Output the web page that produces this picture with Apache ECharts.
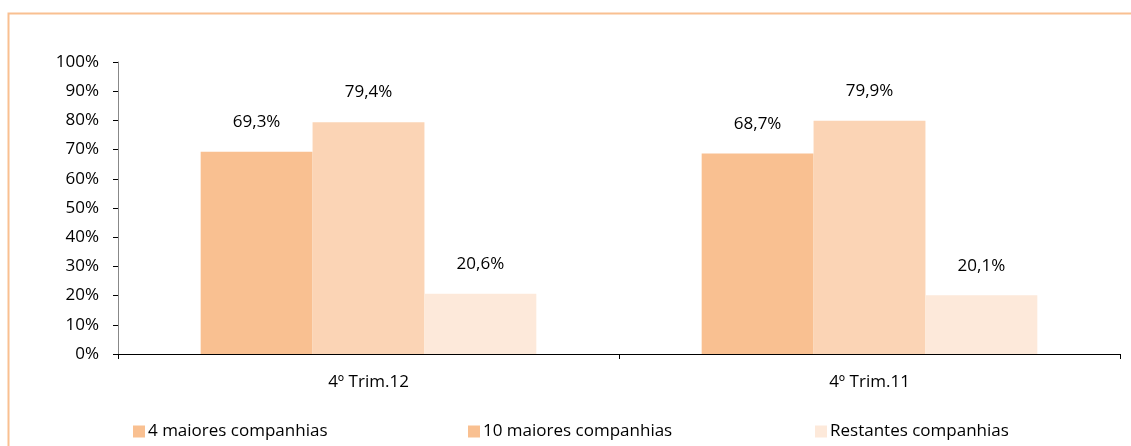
<!DOCTYPE html>
<html>
<head>
<meta charset="utf-8">
<script src="https://cdn.jsdelivr.net/npm/echarts@6/dist/echarts.min.js"></script>
<style>
html,body{margin:0;padding:0;background:#fff;}
#chart{width:1131px;height:446px;}
</style>
</head>
<body>
<div id="chart"></div>
<script>
var categories = ['4º Trim.12', '4º Trim.11'];
var seriesNames = ['4 maiores companhias', '10 maiores companhias', 'Restantes companhias'];
var top4 = [69.3, 68.7];
var top10 = [79.4, 79.9];
var restantes = [20.6, 20.1];
var yTicks = [0, 10, 20, 30, 40, 50, 60, 70, 80, 90, 100];

var barColors = ['#F9C091', '#FBD4B5', '#FDE9DA'];
var legendColors = ['#F9C091', '#F9C091', '#FDE9DA'];
var FONT = 'Open Sans';
var FS = 17;

var chart = echarts.init(document.getElementById('chart'));

function mkSeries(name, data, color) {
  return {
    name: name,
    type: 'bar',
    data: data,
    barGap: '0%',
    barCategoryGap: '33%',
    itemStyle: { color: color },
    label: {
      show: true,
      position: 'top',
      distance: 21,
      fontFamily: FONT,
      fontSize: FS,
      color: '#000',
      formatter: function (p) { return p.value.toFixed(1).replace('.', ',') + '%'; }
    }
  };
}

function mkLegend(i, left) {
  return {
    left: left,
    top: 418,
    itemWidth: 12,
    itemHeight: 12,
    itemGap: 0,
    selectedMode: false,
    textStyle: { fontFamily: FONT, fontSize: FS, color: '#000', padding: [0, 0, 0, -2] },
    data: [{ name: seriesNames[i], icon: 'rect', itemStyle: { color: legendColors[i] } }]
  };
}

chart.setOption({
  animation: false,
  backgroundColor: '#fff',
  graphic: [{
    type: 'polyline',
    shape: { points: [[8.5, 460], [8.5, 13.5], [1140, 13.5]] },
    style: { stroke: '#F9C091', lineWidth: 2, fill: null }
  }],
  legend: [mkLegend(0, 128), mkLegend(1, 463), mkLegend(2, 810)],
  grid: { left: 118, right: 11, top: 62, bottom: 92, containLabel: false },
  xAxis: {
    type: 'category',
    data: categories,
    axisLine: { lineStyle: { color: '#000', width: 1 } },
    axisTick: { show: true, length: 5, lineStyle: { color: '#000' } },
    axisLabel: { fontFamily: FONT, fontSize: FS, color: '#000', margin: 20 }
  },
  yAxis: {
    type: 'value',
    min: yTicks[0],
    max: yTicks[yTicks.length - 1],
    interval: 10,
    splitLine: { show: false },
    axisLine: { show: true, lineStyle: { color: '#888', width: 1 } },
    axisTick: { show: true, length: 5, lineStyle: { color: '#000' } },
    axisLabel: { fontFamily: FONT, fontSize: FS, color: '#000', margin: 19, formatter: '{value}%' }
  },
  series: [
    mkSeries(seriesNames[0], top4, barColors[0]),
    mkSeries(seriesNames[1], top10, barColors[1]),
    mkSeries(seriesNames[2], restantes, barColors[2])
  ]
});
</script>
</body>
</html>
